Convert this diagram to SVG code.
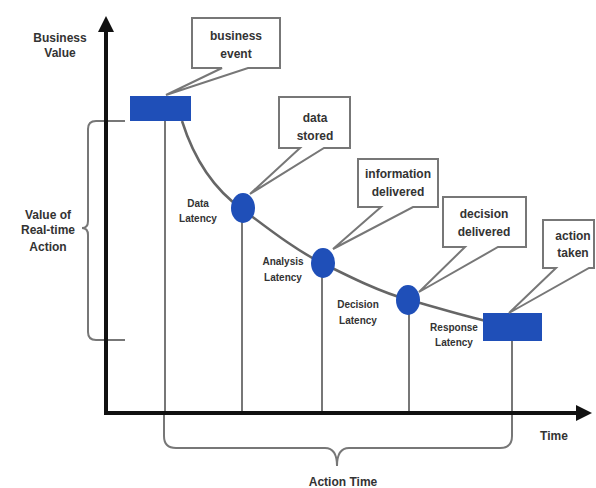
<svg xmlns="http://www.w3.org/2000/svg" width="596" height="488" viewBox="0 0 596 488">
<style>
.t{font-family:"Liberation Sans",Arial,sans-serif;font-weight:bold;font-size:12px;fill:#333;text-anchor:middle}
.s{font-size:10px}
.ln{stroke:#777;stroke-width:2;fill:none}
.cv{stroke:#666;stroke-width:2.5;fill:none}
.co{stroke:#777;stroke-width:2;fill:#fff;stroke-linejoin:miter}
.bl{fill:#1f4fb8}
.ax{stroke:#111;stroke-width:4;fill:none}
</style>
<defs>
<marker id="ah" markerWidth="4" markerHeight="4" refX="2" refY="2" orient="auto" markerUnits="strokeWidth">
<path d="M0,0 L4,2 L0,4 Z" fill="#111"/>
</marker>
</defs>
<rect width="596" height="488" fill="#fff"/>
<g id="connectors">
<path class="ln" d="M165,121 V413"/>
<path class="ln" d="M242,209 V413"/>
<path class="ln" d="M322,263 V413"/>
<path class="ln" d="M409,300 V413"/>
<path class="ln" d="M512,341 V413"/>
<path class="cv" d="M182,121 C195,162 215,190 242,209 C265,226 295,250 322,263 C350,277 380,292 409,300 C435,307 460,315 490,322"/>
<path class="ln" d="M125,121 H96 Q88,121 88,129 V221 Q88,228 82,228 Q88,228 88,235 V332 Q88,340 96,340 H125"/>
<path class="ln" d="M164,413 V436 Q164,448 176,448 H325 Q337,448 337,466 Q337,448 349,448 H500 Q512,448 512,436 V413"/>
</g>
<g id="axes">
<path class="ax" d="M106,413 V24" marker-end="url(#ah)"/>
<path class="ax" d="M104,413 H584" marker-end="url(#ah)"/>
</g>
<g id="business-event-box"><rect class="bl" x="130" y="96" width="61" height="25"/></g>
<g id="action-taken-box"><rect class="bl" x="483" y="313" width="59" height="28"/></g>
<g id="data-stored-dot"><ellipse class="bl" cx="243" cy="208" rx="12" ry="15"/></g>
<g id="info-dot"><ellipse class="bl" cx="323" cy="263" rx="12" ry="15"/></g>
<g id="decision-dot"><ellipse class="bl" cx="408" cy="300" rx="12" ry="15"/></g>
<g id="callout-business-event">
<path class="co" d="M192,18 H280 V68 H248 L166,95 L222,68 H192 Z"/>
<text class="t" x="236" y="40">business</text>
<text class="t" x="236" y="58">event</text>
</g>
<g id="callout-data-stored">
<path class="co" d="M279,97 H350 V148 H324 L250,194 L300,148 H279 Z"/>
<text class="t" x="315" y="122">data</text>
<text class="t" x="315" y="140">stored</text>
</g>
<g id="callout-information-delivered">
<path class="co" d="M358,159 H438 V207 H413 L333,249 L381,207 H358 Z"/>
<text class="t" x="398" y="178">information</text>
<text class="t" x="398" y="196">delivered</text>
</g>
<g id="callout-decision-delivered">
<path class="co" d="M443,197 H526 V247 H498 L419,292 L465,247 H443 Z"/>
<text class="t" x="484" y="218">decision</text>
<text class="t" x="484" y="236">delivered</text>
</g>
<g id="callout-action-taken">
<path class="co" d="M543,220 H594 V268 H589 L509,313 L556,268 H543 Z"/>
<text class="t" x="573" y="240">action</text>
<text class="t" x="573" y="257">taken</text>
</g>
<g id="labels">
<text class="t" x="60" y="42">Business</text>
<text class="t" x="60" y="57">Value</text>
<text class="t" x="48" y="219">Value of</text>
<text class="t" x="48" y="234">Real-time</text>
<text class="t" x="48" y="251">Action</text>
<text class="t s" x="198" y="207">Data</text>
<text class="t s" x="198" y="222">Latency</text>
<text class="t s" x="283" y="265">Analysis</text>
<text class="t s" x="283" y="281">Latency</text>
<text class="t s" x="358" y="308">Decision</text>
<text class="t s" x="358" y="324">Latency</text>
<text class="t s" x="454" y="331">Response</text>
<text class="t s" x="454" y="346">Latency</text>
<text class="t" x="554" y="440">Time</text>
<text class="t" x="343" y="486">Action Time</text>
</g>
</svg>
